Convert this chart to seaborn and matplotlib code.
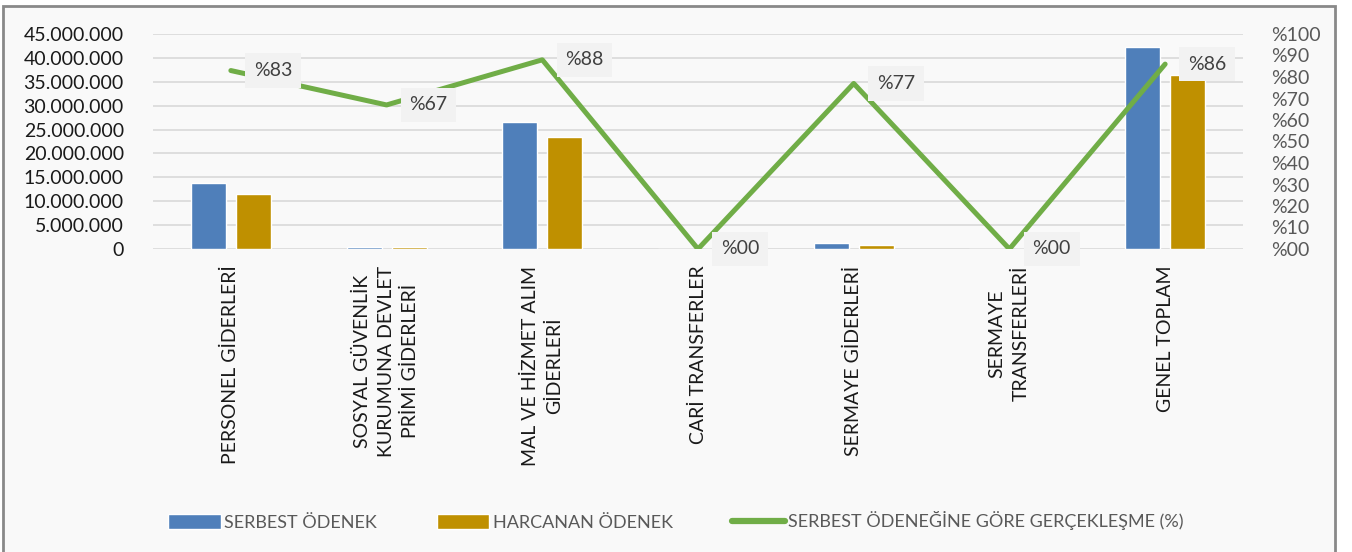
import matplotlib.pyplot as plt
import seaborn as sns
import pandas as pd
import numpy as np
from matplotlib.patches import Patch, Rectangle
from matplotlib.lines import Line2D
from matplotlib.ticker import FuncFormatter, MultipleLocator

# Data
categories = ["PERSONEL GİDERLERİ",
              "SOSYAL GÜVENLİK\nKURUMUNA DEVLET\nPRİMİ GİDERLERİ",
              "MAL VE HİZMET ALIM\nGİDERLERİ",
              "CARİ TRANSFERLER",
              "SERMAYE GİDERLERİ",
              "SERMAYE\nTRANSFERLERİ",
              "GENEL TOPLAM"]
serbest = [13_900_000, 500_000, 26_500_000, 0, 1_200_000, 0, 42_300_000]
harcanan = [11_500_000, 330_000, 23_400_000, 0, 920_000, 0, 36_400_000]
oran = [83, 67, 88, 0, 77, 0, 86]
series_names = ["SERBEST ÖDENEK", "HARCANAN ÖDENEK"]
line_name = "SERBEST ÖDENEĞİNE GÖRE GERÇEKLEŞME (%)"

df = pd.DataFrame({
    "kalem": categories * 2,
    "seri": [series_names[0]] * len(categories) + [series_names[1]] * len(categories),
    "tutar": serbest + harcanan,
})

blue, gold, green = "#4F7FBA", "#BF9000", "#70AD47"

sns.set_theme(style="white")
plt.rcParams["font.family"] = ["Lato", "DejaVu Sans"]

fig = plt.figure(figsize=(13.52, 5.52), dpi=100)
fig.patch.set_facecolor("white")
# chart frame (behind everything)
fig.patches.append(Rectangle((3 / 1352, -0.05), 1332 / 1352, 1.05 - 6 / 552,
                             transform=fig.transFigure, facecolor="#F9F9F9",
                             edgecolor="#898989", linewidth=2, zorder=-5))

ax = fig.add_axes([153 / 1352, 1 - 249 / 552, 1090 / 1352, 215 / 552])
ax.set_facecolor("none")
sns.barplot(data=df, x="kalem", y="tutar", hue="seri", order=categories,
            hue_order=series_names, palette=[blue, gold], width=0.578, gap=0.22,
            saturation=1, legend=False, ax=ax, zorder=3)

ax.set_ylim(0, 45_000_000)
ax.set_xlim(-0.5, len(categories) - 0.5)
ax.yaxis.set_major_locator(MultipleLocator(5_000_000))
ax.yaxis.set_major_formatter(FuncFormatter(lambda v, p: f"{int(v):,}".replace(",", ".")))
ax.grid(axis="y", color="#D9D9D9", linewidth=1.2, zorder=0)
ax.set_axisbelow(True)
for s in ax.spines.values():
    s.set_visible(False)
ax.set_xlabel("")
ax.set_ylabel("")
ax.tick_params(axis="y", length=0, pad=21, labelsize=14, labelcolor="#1A1A1A")
ax.tick_params(axis="x", length=0, pad=12)
ax.set_xticks(range(len(categories)))
ax.set_xticklabels(categories, rotation=90, va="top", ha="center",
                   multialignment="center", fontsize=14, color="#1A1A1A",
                   linespacing=1.5)

ax2 = ax.twinx()
ax2.set_position(ax.get_position())
x_pos = np.arange(len(categories))
sns.lineplot(x=x_pos, y=oran, color=green, linewidth=3.6, ax=ax2, zorder=4)
ax2.set_ylim(0, 100)
ax2.yaxis.set_major_locator(MultipleLocator(10))
ax2.yaxis.set_major_formatter(FuncFormatter(lambda v, p: f"%{int(v):02d}"))
ax2.tick_params(axis="y", length=0, pad=20, labelsize=14, labelcolor="#595959")
for s in ax2.spines.values():
    s.set_visible(False)
ax2.grid(False)

for xi, v in zip(x_pos, oran):
    ax2.annotate(f"%{v:02d}", xy=(xi, v), xytext=(23, 0), textcoords="offset pixels",
                 ha="left", va="center", fontsize=14, color="#404040", zorder=6,
                 bbox=dict(boxstyle="square,pad=0.45", fc="#F2F2F2", ec="none"))

handles = [Patch(facecolor=blue), Patch(facecolor=gold),
           Line2D([0], [0], color=green, linewidth=4.5)]
fig.legend(handles, series_names + [line_name], loc="center",
           bbox_to_anchor=(0.5, 1 - 521 / 552), ncol=3, frameon=False,
           fontsize=13, labelcolor="#595959", handlelength=2.9,
           handleheight=0.9, handletextpad=0.2, columnspacing=3.3)

plt.savefig("out.png", dpi=100)
plt.close()
